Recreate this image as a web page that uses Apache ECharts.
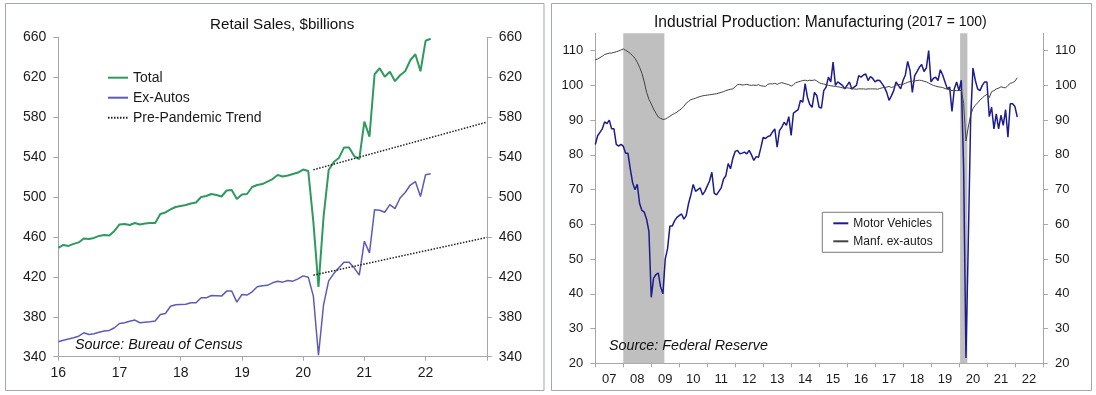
<!DOCTYPE html>
<html><head><meta charset="utf-8">
<script src="https://cdn.jsdelivr.net/npm/echarts@6/dist/echarts.min.js"></script>
<style>html,body{margin:0;padding:0;background:#fff}#c{width:1096px;height:395px}</style>
</head><body><div id="c"></div>
<script>
// ---------- Left panel: Retail Sales, $billions (monthly, Jan 2016 - Feb 2022) ----------
const retailStartYear = 2016;
const retailTotal = [
  449, 452, 451, 453, 454.5, 458.5, 458, 459, 461, 462, 461.5, 466,
  472.5, 473, 472, 474, 472.5, 473.5, 474, 474, 483, 484.5, 487.5, 490,
  491, 492, 493.5, 494.5, 500, 501, 503, 502, 500.5, 506.5, 507, 498,
  502.5, 503, 510, 512, 513, 515.5, 518, 522, 520.5, 521.5, 523, 524.5,
  527.5, 526, 475, 410, 480, 527, 535, 539, 549.5, 549.5, 541, 538,
  575.5, 560.5, 623, 629, 620.5, 625.5, 616, 622, 626, 637, 643, 626,
  656.5, 658.5
];
const retailExAutos = [
  355, 356.5, 357.8, 359, 360.5, 364, 362.3, 363, 364.5, 365.7, 366.3, 369,
  373.3, 374, 375.5, 376.7, 374, 374.5, 375, 375.7, 382.3, 383.3, 390.5, 392,
  392.3, 392.5, 394, 394, 399, 399, 401.3, 401, 400.7, 405.7, 405.7, 394.7,
  402.3, 401.7, 405, 410, 411, 411.5, 414, 415.5, 414.7, 416.3, 415.7, 418,
  421, 419.7, 400.7, 341.5, 392, 416, 423.3, 429, 434.7, 434.7, 429, 421.7,
  455.7, 444, 487.3, 486.7, 484.7, 492.3, 488.3, 499, 504.5, 512, 515.5, 500.5,
  522.3, 523.3
];
const trendDates = [2020.167, 2023];
const trendTotal = [527.3, 575];
const trendExAutos = [421.7, 459.5];
const retailYTicks = [340, 380, 420, 460, 500, 540, 580, 620, 660];

// ---------- Right panel: Industrial Production: Manufacturing (2017 = 100), Jan 2007 - Feb 2022 ----------
const ipStartYear = 2007;
const motorVehicles = [
  83, 85.5, 86.5, 87.5, 89.5, 89, 90, 87.5, 87.5, 83, 82.5, 83,
  82.5, 80.5, 80.5, 76, 72, 70, 71.5, 66, 64, 63.5, 61.5, 58,
  39, 44.5, 45.5, 46, 42, 40, 50, 53, 59.5, 59.5, 61, 62,
  62.5, 63, 61.5, 62.5, 66, 68.5, 71.5, 69.5, 70, 70.5, 68.5, 69.5,
  71, 72.5, 75, 69, 68.5, 69.5, 70.5, 73, 74, 77.5, 76, 79,
  81, 81.3, 80.3, 80.5, 80.8, 80.3, 81.3, 80, 78.4, 79.5, 79.3, 82,
  85, 84.7, 85.3, 85.5, 86.6, 87.5, 82.2, 87, 88, 89.4, 88.5, 91,
  85.6, 92, 92.5, 93, 95.7, 95.2, 100.5, 96.6, 94.5, 93.7, 98, 97.1,
  93.7, 93.5, 98.5, 99.5, 102.4, 101, 106.7, 100, 101, 100.5, 100, 99,
  100, 101, 99, 99.5, 100, 102.8, 102.4, 103, 103.3, 101.4, 102.5, 102,
  101, 101.5, 101.4, 100.5, 99.5, 98, 95.7, 97, 98.5, 101, 100, 99,
  101.4, 103, 106.9, 104.3, 98, 102.8, 104, 105.2, 106, 104, 105, 110,
  101, 102, 102.4, 101.4, 104.5, 103, 101, 99, 99.5, 92.5, 99, 101,
  98.5, 101.5, 76, 21.5, 55, 90, 105, 101.5, 99, 98.5, 100, 101,
  101, 91, 93.7, 87.5, 91.8, 87.5, 91.4, 88.5, 93, 85.1, 94.7, 94.7,
  93.9, 90.9
];
const manfExAutos = [
  107.4, 107.6, 108, 108.4, 108.9, 109.1, 109.3, 109.3, 109.5, 109.7, 109.9, 110.2,
  110.5, 110.1, 109.7, 109.2, 108.6, 107.8, 106.7, 105.2, 103.5, 101, 98, 96,
  94.7, 93.2, 92, 90.9, 90.5, 90.2, 90.3, 90.7, 91.1, 91.6, 91.9, 92.3,
  92.8, 93.3, 94, 94.9, 95.4, 95.9, 96.1, 96.3, 96.6, 96.8, 97, 97.1,
  97.2, 97.3, 97.4, 97.5, 97.6, 97.8, 98, 98.2, 98.5, 98.7, 98.9, 99,
  99.6, 100.2, 100.3, 100.1, 100.2, 100.3, 100.1, 100, 100.1, 100, 100.2, 99.9,
  99.8, 99.7, 100.3, 100.5, 100.4, 100.6, 100.3, 100.6, 100.8, 100.6, 100.4, 100.2,
  99.8, 100.2, 100.8, 101, 101.2, 101.4, 101.5, 101.3, 101.5, 101.4, 101.6, 101.3,
  100.8, 100.5, 100.4, 100.2, 100, 99.9, 99.8, 99.7, 99.6, 99.5, 99.3, 99.2,
  99.3, 99.2, 99, 99, 98.9, 99, 99, 99, 98.9, 99, 99, 99,
  99, 98.9, 99.1, 99.3, 99.4, 99.5, 99.7, 99.4, 99.6, 100.1, 100.2, 100.3,
  100.3, 100.6, 100.9, 101.1, 101.2, 101.3, 101.4, 101.5, 101.4, 101.2, 101, 100.7,
  100.3, 100, 99.8, 99.6, 99.5, 99.4, 99.1, 98.9, 98.7, 98.5, 98.6, 98.5,
  98.5, 98.6, 94.8, 84, 88, 91.5, 93.3, 94.3, 95, 95.8, 96.4, 97,
  97.4, 96.5, 98.2, 98.5, 99, 99.2, 99.6, 99.4, 99.3, 100, 100.6, 100.8,
  101.2, 102.2
];
const recessions = [[2008.0, 2009.47], [2020.04, 2020.3]];
const ipYTicks = [20, 30, 40, 50, 60, 70, 80, 90, 100, 110];
const ipYearLabels = ['07','08','09','10','11','12','13','14','15','16','17','18','19','20','21','22'];

// ---------- build ----------
const FONT = "'Liberation Sans', Arial, sans-serif";
const monthsFrom = (start, n) => Array.from({length: n}, (_, i) => start + i / 12);
const pair = (xs, ys) => ys.map((v, i) => [xs[i], v]);
const retailDates = monthsFrom(retailStartYear, retailTotal.length);
const ipDates = monthsFrom(ipStartYear, motorVehicles.length);

const AXIS_COLOR = '#a6a6a6';
const LABEL_COLOR = '#1a1a1a';

function yAxisCfg(grid, pos, min, max, ticks, size) {
  return {
    type: 'value', gridIndex: grid, position: pos, min: min, max: max,
    splitLine: {show: false},
    axisLine: {show: true, lineStyle: {color: AXIS_COLOR, width: 1}},
    axisTick: {show: true, inside: false, length: 5, customValues: ticks, lineStyle: {color: AXIS_COLOR}},
    axisLabel: {customValues: ticks, color: LABEL_COLOR, fontFamily: FONT, fontSize: size, margin: 12}
  };
}

const chart = echarts.init(document.getElementById('c'));
chart.setOption({
  animation: false,
  backgroundColor: '#ffffff',
  textStyle: {fontFamily: FONT},
  graphic: [
    {type: 'rect', z: 0, shape: {x: 5.5, y: 3.5, width: 538.5, height: 387}, style: {fill: 'none', stroke: '#a3a8ad', lineWidth: 1}, silent: true},
    {type: 'rect', z: 0, shape: {x: 551.5, y: 3.5, width: 540, height: 387}, style: {fill: 'none', stroke: '#a3a8ad', lineWidth: 1}, silent: true},
    {type: 'text', z: 100, x: 210, y: 25, style: {text: 'Retail Sales, $billions', font: '15.2px ' + FONT, fill: '#111', verticalAlign: 'middle', align: 'left'}},
    {type: 'text', z: 100, x: 654, y: 22.5, style: {
      text: '{a|Industrial Production: Manufacturing} {b|(2017 = 100)}',
      verticalAlign: 'middle', align: 'left',
      rich: {a: {fontSize: 15.6, fontFamily: FONT, fill: '#111'}, b: {fontSize: 14, fontFamily: FONT, fill: '#111'}}
    }},
    {type: 'text', z: 100, x: 75, y: 345, style: {text: 'Source: Bureau of Census', font: 'italic 14.3px ' + FONT, fill: '#111', verticalAlign: 'middle', align: 'left'}},
    {type: 'text', z: 100, x: 609, y: 346.5, style: {text: 'Source: Federal Reserve', font: 'italic 14.3px ' + FONT, fill: '#111', verticalAlign: 'middle', align: 'left'}}
  ],
  legend: [
    {
      data: ['Total', 'Ex-Autos', 'Pre-Pandemic Trend'],
      orient: 'vertical', left: 107, top: 70.7, padding: 0,
      itemWidth: 20, itemHeight: 14, itemGap: 6,
      itemStyle: {opacity: 0},
      textStyle: {fontFamily: FONT, fontSize: 14, color: LABEL_COLOR},
      selectedMode: false
    },
    {
      data: ['Motor Vehicles', 'Manf. ex-autos'],
      orient: 'vertical', left: 822.3, top: 212.3,
      padding: [5, 10, 5, 10],
      borderColor: '#7a7a7a', borderWidth: 1, backgroundColor: '#fff',
      itemWidth: 15, itemHeight: 14, itemGap: 6,
      itemStyle: {opacity: 0},
      textStyle: {fontFamily: FONT, fontSize: 12, color: LABEL_COLOR},
      selectedMode: false
    }
  ],
  grid: [
    {left: 58.3, top: 37.3, width: 428.5, height: 319.4},
    {left: 595.3, top: 33.3, width: 447.6, height: 330}
  ],
  xAxis: [
    {
      type: 'value', gridIndex: 0, min: 2016, max: 2023, interval: 1,
      splitLine: {show: false},
      axisLine: {show: true, onZero: false, lineStyle: {color: AXIS_COLOR}},
      axisTick: {show: true, length: 4, lineStyle: {color: AXIS_COLOR}},
      axisLabel: {color: LABEL_COLOR, fontFamily: FONT, fontSize: 14, margin: 9,
        formatter: v => (v < 2023 ? String(v).slice(2) : '')}
    },
    {type: 'value', gridIndex: 1, min: 2007, max: 2023, show: false},
    {
      type: 'category', gridIndex: 1, position: 'bottom', data: ipYearLabels, boundaryGap: true,
      axisLine: {show: true, onZero: false, lineStyle: {color: AXIS_COLOR}},
      axisTick: {show: true, length: 4, interval: 0, lineStyle: {color: AXIS_COLOR}},
      axisLabel: {interval: 0, color: LABEL_COLOR, fontFamily: FONT, fontSize: 13, margin: 10},
      splitLine: {show: false}
    }
  ],
  yAxis: [
    yAxisCfg(0, 'left', 340, 660, retailYTicks, 14),
    yAxisCfg(0, 'right', 340, 660, retailYTicks, 14),
    yAxisCfg(1, 'left', 20, 115, ipYTicks, 13),
    yAxisCfg(1, 'right', 20, 115, ipYTicks, 13)
  ],
  series: [
    {
      name: 'Total', type: 'line', xAxisIndex: 0, yAxisIndex: 0,
      data: pair(retailDates, retailTotal), symbol: 'none', z: 3,
      color: '#2e9a5e', lineStyle: {color: '#2e9a5e', width: 2}
    },
    {
      name: 'Ex-Autos', type: 'line', xAxisIndex: 0, yAxisIndex: 0,
      data: pair(retailDates, retailExAutos), symbol: 'none', z: 3,
      color: '#5c5cb8', lineStyle: {color: '#5c5cb8', width: 1.5}
    },
    {
      name: 'Pre-Pandemic Trend', type: 'line', xAxisIndex: 0, yAxisIndex: 0,
      data: pair(trendDates, trendTotal), symbol: 'none', z: 4,
      color: '#222', lineStyle: {color: '#222', width: 1.5, type: [1.5, 1.5]}
    },
    {
      name: 'Pre-Pandemic Trend', type: 'line', xAxisIndex: 0, yAxisIndex: 0,
      data: pair(trendDates, trendExAutos), symbol: 'none', z: 4,
      color: '#222', lineStyle: {color: '#222', width: 1.5, type: [1.5, 1.5]}
    },
    {
      type: 'line', xAxisIndex: 1, yAxisIndex: 2, data: [], z: 1, silent: true,
      markArea: {
        silent: true,
        itemStyle: {color: '#bfbfbf'},
        data: recessions.map(r => [{xAxis: r[0]}, {xAxis: r[1]}])
      }
    },
    {
      name: 'Motor Vehicles', type: 'line', xAxisIndex: 1, yAxisIndex: 2,
      data: pair(ipDates, motorVehicles), symbol: 'none', z: 3,
      color: '#1c1c8e', lineStyle: {color: '#1c1c8e', width: 1.5}
    },
    {
      name: 'Manf. ex-autos', type: 'line', xAxisIndex: 1, yAxisIndex: 2,
      data: pair(ipDates, manfExAutos), symbol: 'none', z: 4,
      color: '#444', lineStyle: {color: '#444', width: 1}
    }
  ]
});
</script>
</body></html>
